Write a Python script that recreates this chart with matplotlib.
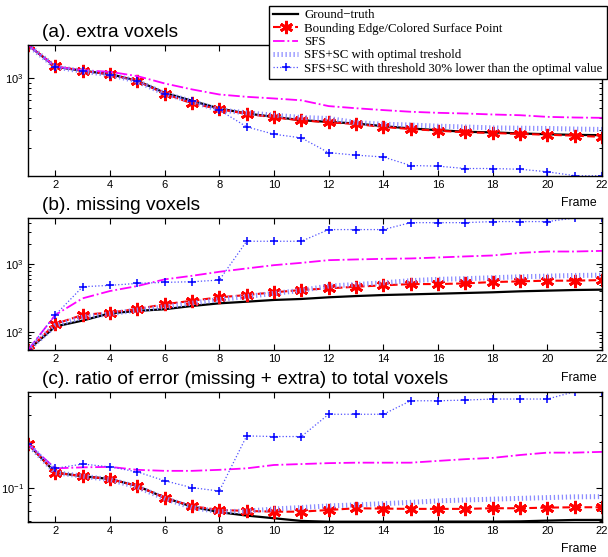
import numpy as np
import matplotlib
matplotlib.use('Agg')
import matplotlib.pyplot as plt
from matplotlib.ticker import LogLocator, NullFormatter, LogFormatterMathtext

# frames
frames = np.arange(1, 23)
xticks = np.arange(2, 23, 2)

labels = ['Ground\u2212truth',
          'Bounding Edge/Colored Surface Point',
          'SFS',
          'SFS+SC with optimal treshold',
          'SFS+SC with threshold 30% lower than the optimal value']

# (a) extra voxels
gt_a = [2140, 1298, 1183, 1096, 940, 713, 593, 497, 443, 410, 380, 365, 352, 331, 314, 302, 291, 287, 280, 275, 271, 269]
be_a = [2140, 1318, 1180, 1090, 935, 700, 558, 490, 440, 405, 378, 362, 348, 325, 310, 298, 288, 283, 277, 272, 266, 259]
sfs_a = [2140, 1300, 1200, 1155, 1047, 884, 771, 686, 650, 626, 600, 525, 500, 479, 461, 450, 443, 433, 426, 410, 404, 401]
opt_a = [2140, 1290, 1170, 1080, 930, 700, 585, 480, 450, 426, 404, 395, 360, 346, 340, 331, 325, 318, 316, 314, 310, 307]
low_a = [2140, 1290, 1170, 1080, 930, 700, 590, 480, 326, 275, 253, 180, 170, 163, 134, 132, 125, 125, 123, 116, 106, 106]

# (b) missing voxels
gt_b = [54, 120, 147, 188, 204, 216, 241, 264, 279, 296, 306, 324, 338, 350, 358, 366, 375, 384, 397, 406, 415, 420]
be_b = [54, 131, 178, 193, 218, 256, 288, 324, 350, 384, 415, 439, 464, 486, 508, 508, 520, 544, 557, 570, 570, 582]
sfs_b = [54, 178, 313, 401, 475, 596, 673, 771, 864, 966, 1045, 1145, 1173, 1198, 1213, 1254, 1300, 1343, 1466, 1536, 1536, 1570]
opt_b = [54, 125, 165, 185, 210, 235, 265, 300, 333, 370, 410, 475, 500, 530, 570, 596, 610, 630, 650, 665, 680, 688]
low_b = [54, 178, 464, 486, 520, 538, 550, 582, 2178, 2178, 2178, 3238, 3238, 3238, 4100, 4100, 4100, 4250, 4250, 4250, 4800, 4800]

# (c) ratio of error to total voxels
gt_c = [0.194, 0.1255, 0.119, 0.114, 0.1026, 0.086, 0.075, 0.069, 0.0655, 0.0629, 0.0604, 0.0597, 0.0597, 0.0597, 0.0597, 0.0598, 0.0598, 0.0598, 0.0600, 0.0607, 0.0613, 0.0613]
be_c = [0.194, 0.1255, 0.119, 0.114, 0.1026, 0.086, 0.0755, 0.0713, 0.0703, 0.0695, 0.0695, 0.0713, 0.0732, 0.0728, 0.0725, 0.0725, 0.0725, 0.0732, 0.0732, 0.0739, 0.0743, 0.0743]
sfs_c = [0.194, 0.134, 0.136, 0.137, 0.131, 0.129, 0.129, 0.131, 0.134, 0.141, 0.143, 0.145, 0.146, 0.146, 0.146, 0.150, 0.154, 0.157, 0.164, 0.170, 0.170, 0.172]
opt_c = [0.194, 0.1255, 0.119, 0.113, 0.101, 0.085, 0.074, 0.0695, 0.0700, 0.0724, 0.0740, 0.0758, 0.0770, 0.0785, 0.080, 0.0818, 0.083, 0.084, 0.085, 0.086, 0.087, 0.0873]
low_c = [0.194, 0.134, 0.143, 0.137, 0.127, 0.111, 0.100, 0.095, 0.219, 0.217, 0.217, 0.304, 0.304, 0.304, 0.373, 0.373, 0.377, 0.383, 0.383, 0.383, 0.428, 0.428]

titles = ['(a). extra voxels', '(b). missing voxels',
          '(c). ratio of error (missing + extra) to total voxels']

plt.rcParams['font.family'] = ['Liberation Sans', 'DejaVu Sans']

fig = plt.figure(figsize=(6.08, 5.57), dpi=100)
W, H = 608.0, 557.0
boxes = [(45, 175.7), (218, 350), (391.7, 521.7)]  # top, bottom in pixels
left, right = 28, 602

data = [(gt_a, be_a, sfs_a, opt_a, low_a),
        (gt_b, be_b, sfs_b, opt_b, low_b),
        (gt_c, be_c, sfs_c, opt_c, low_c)]

handles = None
for i, (top, bot) in enumerate(boxes):
    ax = fig.add_axes([left / W, 1 - bot / H, (right - left) / W, (bot - top) / H])
    gt, be, sfs, opt, low = data[i]
    h1, = ax.plot(frames, gt, color='black', lw=1.6)
    h2, = ax.plot(frames, be, color='red', ls='--', lw=1.5, marker=(6, 2, 0), ms=9.5, mew=2.0)
    h3, = ax.plot(frames, sfs, color='magenta', ls='-.', lw=1.3)
    h4, = ax.plot(frames, opt, color='#8c8cff', ls=(0, (0.25, 0.55)), lw=3.6, dash_capstyle='butt')
    h5, = ax.plot(frames, low, color='#5050ff', ls=':', lw=0.9, marker='+', ms=6, mew=1.1, mec='blue')
    handles = [h1, h2, h3, h4, h5]

    ax.set_yscale('log')
    ax.set_xlim(1, 22)
    allv = np.concatenate([gt, be, sfs, opt, low])
    ax.set_ylim(allv.min(), allv.max())
    ax.set_xticks(xticks)
    ax.yaxis.set_major_locator(LogLocator(base=10))
    ax.yaxis.set_major_formatter(LogFormatterMathtext())
    ax.yaxis.set_minor_locator(LogLocator(base=10, subs=np.arange(2, 10)))
    ax.yaxis.set_minor_formatter(NullFormatter())
    ax.tick_params(which='both', direction='in', top=True, right=True, labelsize=8)
    ax.tick_params(which='major', length=4, width=0.8, pad=3)
    ax.tick_params(which='minor', length=2.5, width=0.7)
    for s in ax.spines.values():
        s.set_linewidth(1.0)

    ax.text(0.024, 1.03, titles[i], transform=ax.transAxes, ha='left', va='bottom', fontsize=13.8)
    ax.text(0.991, -0.165, 'Frame', transform=ax.transAxes, ha='right', va='top', fontsize=8.8)

leg = fig.legend(handles, labels, loc='upper right', bbox_to_anchor=(606.5 / W, 1 - 5.5 / H),
                 prop={'family': ['Liberation Serif', 'DejaVu Serif'], 'size': 9.3},
                 frameon=True, fancybox=False, framealpha=1, edgecolor='black',
                 borderpad=0.3, labelspacing=0.1, handlelength=2.0, handletextpad=0.45,
                 borderaxespad=0)
leg.get_frame().set_linewidth(1.0)

fig.savefig('out.png', dpi=100)
